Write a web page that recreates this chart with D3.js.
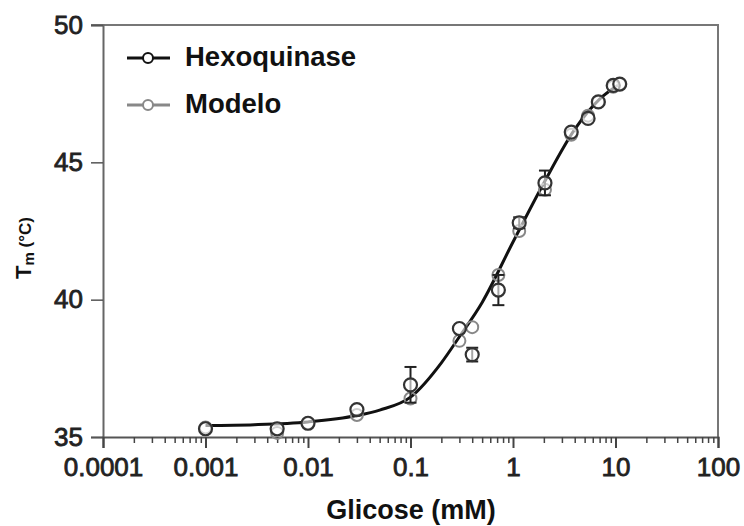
<!DOCTYPE html>
<head>
    <meta charset="utf-8">
    <script src="https://d3js.org/d3.v7.min.js"></script>
    <style>
        body { margin: 0; background: #fff; }
        text { font-family: "Liberation Sans", Arial, sans-serif; }
    </style>
</head>
<body>
    <svg id="chart" width="744" height="526"></svg>
    <script>
        // glucose concentrations (mM)
        var glucose = [0.001, 0.005, 0.01, 0.03, 0.1, 0.3, 0.4, 0.72, 1.15, 2.05, 3.7, 5.4, 6.8, 9.5, 11];
        // Hexoquinase measured Tm and error
        var hexTm = [35.3, 35.3, 35.5, 36.0, 36.9, 38.95, 38.0, 40.35, 42.8, 44.25, 46.1, 46.6, 47.2, 47.8, 47.85];
        var hexErr = [0.1, 0.1, 0.05, 0.05, 0.65, 0.1, 0.25, 0.55, 0.2, 0.45, 0.15, 0.1, 0.1, 0.05, 0.05];
        // Modelo points
        var modTm = [35.35, 35.15, 35.5, 35.8, 36.4, 38.5, 39.0, 40.9, 42.5, 44.0, 46.0, 46.7, 47.2, 47.75, 47.85];
        // fitted curve
        var fitX = [0.001, 0.003, 0.01, 0.03, 0.05, 0.1, 0.2, 0.3, 0.5, 1, 2, 4, 7, 11];
        var fitY = [35.42, 35.45, 35.55, 35.78, 35.98, 36.45, 37.7, 38.65, 39.9, 42.1, 44.25, 46.2, 47.3, 47.85];

        var xTickLabels = ["0.0001", "0.001", "0.01", "0.1", "1", "10", "100"];
        var yTicks = [35, 40, 45, 50];

        var svg = d3.select("#chart");
        var mLeft = 103, mRight = 718, mTop = 25, mBottom = 437;

        var x = d3.scaleLog().domain([1e-4, 100]).range([mLeft, mRight]);
        var y = d3.scaleLinear().domain([35, 50]).range([mBottom, mTop]);

        // frame (top and right)
        svg.append("path")
            .attr("d", "M" + (mLeft - 12) + "," + mTop + "H" + mRight + "V" + mBottom)
            .attr("fill", "none").attr("stroke", "#777").attr("stroke-width", 2);

        // y axis
        var yAxis = svg.append("g")
            .attr("transform", "translate(" + mLeft + ",0)")
            .call(d3.axisLeft(y).tickValues(yTicks).tickSize(12).tickPadding(8));
        yAxis.select(".domain").attr("stroke", "#666").attr("stroke-width", 2);
        yAxis.selectAll(".tick line").attr("stroke", "#555").attr("stroke-width", 1.5);
        yAxis.selectAll("text").attr("font-size", 26).attr("fill", "#222")
            .attr("stroke", "#222").attr("stroke-width", 0.8);

        // x axis: majors and minors
        var allTicks = x.ticks();
        var majors = allTicks.filter(function (d) { return Math.abs(Math.log10(d) - Math.round(Math.log10(d))) < 1e-9; });
        var minors = allTicks.filter(function (d) { return majors.indexOf(d) < 0; });

        var xAxis = svg.append("g")
            .attr("transform", "translate(0," + mBottom + ")")
            .call(d3.axisBottom(x).tickValues(majors).tickSize(11).tickPadding(10)
                .tickFormat(function (d, i) { return xTickLabels[i]; }));
        xAxis.select(".domain").attr("stroke", "#555").attr("stroke-width", 2);
        xAxis.selectAll(".tick line").attr("stroke", "#444").attr("stroke-width", 2);
        xAxis.selectAll("text").attr("font-size", 26).attr("fill", "#222")
            .attr("stroke", "#222").attr("stroke-width", 0.8);

        svg.append("g")
            .attr("transform", "translate(0," + mBottom + ")")
            .call(d3.axisBottom(x).tickValues(minors).tickSize(6).tickFormat(""))
            .call(function (g) { g.select(".domain").remove(); })
            .selectAll(".tick line").attr("stroke", "#444").attr("stroke-width", 1.5);

        // axis titles
        svg.append("text")
            .attr("x", 411).attr("y", 519)
            .attr("text-anchor", "middle")
            .attr("font-family", "Open Sans").attr("font-weight", "bold")
            .attr("font-size", 27).attr("fill", "#111")
            .text("Glicose (mM)");

        var yt = svg.append("text")
            .attr("transform", "translate(31,248) rotate(-90)")
            .attr("text-anchor", "middle")
            .attr("font-family", "Open Sans").attr("font-weight", "bold")
            .attr("fill", "#111");
        yt.append("tspan").attr("font-size", 22).text("T");
        yt.append("tspan").attr("font-size", 15).attr("dy", 3).text("m");
        yt.append("tspan").attr("font-size", 17).attr("dy", -3).text(" (°C)");

        // fitted curve
        var fit = fitX.map(function (d, i) { return [d, fitY[i]]; });
        svg.append("path")
            .datum(fit)
            .attr("fill", "none").attr("stroke", "#111").attr("stroke-width", 3)
            .attr("d", d3.line()
                .x(function (d) { return x(d[0]); })
                .y(function (d) { return y(d[1]); })
                .curve(d3.curveMonotoneX));

        // Modelo points (gray)
        svg.append("g").selectAll("circle")
            .data(glucose)
            .enter().append("circle")
            .attr("cx", function (d) { return x(d); })
            .attr("cy", function (d, i) { return y(modTm[i]); })
            .attr("r", 6)
            .attr("fill", "none").attr("stroke", "#888").attr("stroke-width", 2);

        // Hexoquinase points with error bars
        var hex = svg.append("g");
        glucose.forEach(function (d, i) {
            var cx = x(d), lo = y(hexTm[i] - hexErr[i]), hi = y(hexTm[i] + hexErr[i]);
            if (hexErr[i] > 0.15) {
                hex.append("line").attr("x1", cx).attr("x2", cx).attr("y1", lo).attr("y2", hi)
                    .attr("stroke", "#222").attr("stroke-width", 2);
                [lo, hi].forEach(function (yy) {
                    hex.append("line").attr("x1", cx - 6).attr("x2", cx + 6).attr("y1", yy).attr("y2", yy)
                        .attr("stroke", "#222").attr("stroke-width", 2);
                });
            }
            hex.append("circle")
                .attr("cx", cx).attr("cy", y(hexTm[i])).attr("r", 6.5)
                .attr("fill", "#fff").attr("fill-opacity", 0.6)
                .attr("stroke", "#333").attr("stroke-width", 2.2);
        });

        // legend
        var legend = [["Hexoquinase", "#111", 58], ["Modelo", "#888", 105]];
        legend.forEach(function (l) {
            svg.append("line").attr("x1", 127).attr("x2", 170).attr("y1", l[2]).attr("y2", l[2])
                .attr("stroke", l[1]).attr("stroke-width", 3);
            svg.append("circle").attr("cx", 148).attr("cy", l[2]).attr("r", 5)
                .attr("fill", "#fff").attr("stroke", l[1]).attr("stroke-width", 2);
            svg.append("text").attr("x", 185).attr("y", l[2] + 8)
                .attr("font-family", "Open Sans").attr("font-weight", "bold")
                .attr("font-size", 27.5).attr("fill", "#111")
                .text(l[0]);
        });
    </script>
</body>
